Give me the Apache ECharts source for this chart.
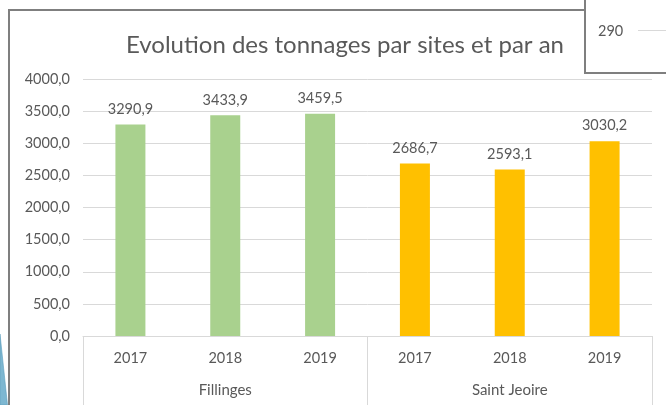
<!DOCTYPE html>
<html>
<head>
<meta charset="utf-8">
<script src="https://cdn.jsdelivr.net/npm/echarts@6/dist/echarts.min.js"></script>
<style>
html,body{margin:0;padding:0;background:#fff;}
#chart{width:666px;height:405px;}
</style>
</head>
<body>
<div id="chart"></div>
<script>
const titleText = 'Evolution des tonnages par sites et par an';
const years = ['2017', '2018', '2019'];
const sites = ['Fillinges', 'Saint Jeoire'];
const fillingesValues = [3290.9, 3433.9, 3459.5];
const saintJeoireValues = [2686.7, 2593.1, 3030.2];
const siteColors = ['#A9D18E', '#FFC000'];
const yTicks = [0, 500, 1000, 1500, 2000, 2500, 3000, 3500, 4000];
const boxLabel = '290';

const FONT = 'Lato';
const TXT = '#595959';

const categories = [];
const barData = [];
[fillingesValues, saintJeoireValues].forEach(function (vals, si) {
  vals.forEach(function (v, i) {
    categories.push(years[i]);
    barData.push({ value: v, itemStyle: { color: siteColors[si] } });
  });
});

const fmt = function (v) { return Number(v).toFixed(1).replace('.', ','); };

const chart = echarts.init(document.getElementById('chart'), null, { renderer: 'canvas' });
chart.setOption({
  animation: false,
  backgroundColor: '#ffffff',
  title: {
    text: titleText,
    left: 340, textAlign: 'center',
    top: 28,
    textStyle: { fontFamily: FONT, fontSize: 24, fontWeight: 'normal', color: TXT }
  },
  grid: { left: 83, right: 14, top: 79, bottom: 69, containLabel: false },
  xAxis: [
    {
      type: 'category',
      data: categories,
      position: 'bottom',
      axisLine: { show: true, lineStyle: { color: '#d9d9d9', width: 1 } },
      axisTick: { show: false },
      axisLabel: { margin: 15, fontFamily: FONT, fontSize: 14.5, color: TXT }
    },
    {
      type: 'category',
      data: sites,
      position: 'bottom',
      offset: 0,
      axisLine: { show: false },
      axisTick: { show: true, length: 75, lineStyle: { color: '#d9d9d9', width: 1 } },
      axisLabel: { margin: 47, fontFamily: FONT, fontSize: 15, color: TXT }
    }
  ],
  yAxis: {
    type: 'value',
    min: yTicks[0], max: yTicks[yTicks.length - 1], interval: yTicks[1] - yTicks[0],
    axisLine: { show: false },
    axisTick: { show: false },
    splitLine: { lineStyle: { color: '#d9d9d9', width: 1 } },
    axisLabel: { margin: 13, fontFamily: FONT, fontSize: 14.5, color: TXT, formatter: fmt }
  },
  series: [{
    type: 'bar',
    xAxisIndex: 0,
    data: barData,
    barWidth: 30,
    label: {
      show: true, position: 'top', distance: 8,
      fontFamily: FONT, fontSize: 14.5, color: TXT,
      formatter: function (p) { return fmt(p.value); }
    }
  }],
  graphic: [
    { type: 'polyline', shape: { points: [[9, 406], [9, 10], [586, 10]] }, style: { stroke: '#7f7f7f', lineWidth: 2, fill: null }, z: 100 },
    { type: 'rect', shape: { x: 585, y: -5, width: 90, height: 78 }, style: { stroke: '#7f7f7f', lineWidth: 2, fill: '#ffffff' }, z: 101 },
    { type: 'text', x: 598, y: 31, style: { text: boxLabel, fontFamily: FONT, fontSize: 14.5, fill: TXT, textVerticalAlign: 'middle' }, z: 102 },
    { type: 'line', shape: { x1: 638, y1: 30.5, x2: 667, y2: 30.5 }, style: { stroke: '#d9d9d9', lineWidth: 1 }, z: 102 },
    { type: 'polygon', shape: { points: [[0, 334], [7.5, 405], [0, 405]] }, style: { fill: '#7DB7D1', stroke: '#5E9FBE', lineWidth: 0.6 }, z: 100 }
  ]
});
</script>
</body>
</html>
